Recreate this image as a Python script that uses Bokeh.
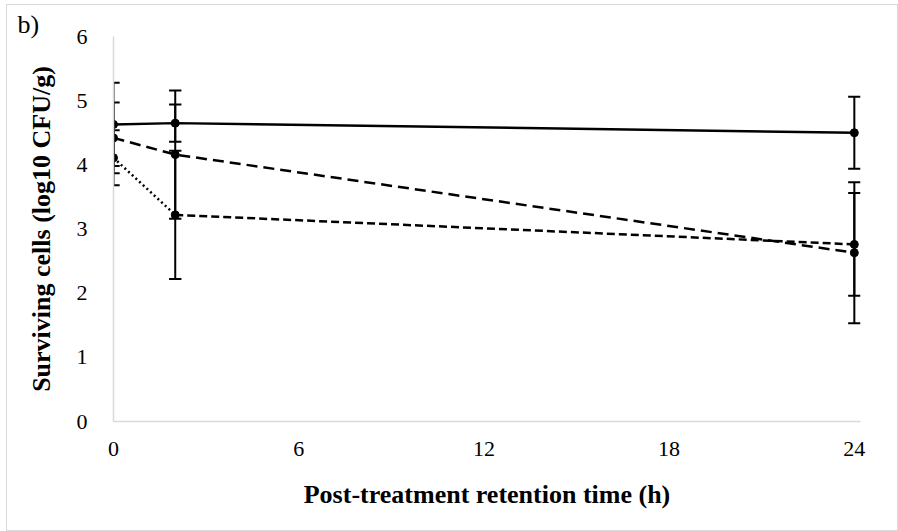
from bokeh.plotting import figure
from bokeh.models import FixedTicker, Range1d
from bokeh.embed import file_html
from bokeh.resources import INLINE

# ---- data ----
time_h = [0, 2, 24]
series1 = [4.63, 4.65, 4.50]
err1 = [0.65, 0.29, 0.56]
series2 = [4.42, 4.16, 2.63]
err2 = [0.55, 1.00, 1.10]
series3 = [4.11, 3.22, 2.76]
err3 = [0.43, 1.00, 0.80]
x_ticks = [0, 6, 12, 18, 24]
y_ticks = [0, 1, 2, 3, 4, 5, 6]

FONT = "Liberation Serif"
CAP = 0.2  # half width of error-bar caps, in hours
X_MIN, X_MAX = 0, 24.2

OFF_X, OFF_Y = 7, 5
W, H = 890, 525
p = figure(width=W, height=H, output_backend="svg", toolbar_location=None,
           x_range=Range1d(X_MIN, X_MAX), y_range=Range1d(0, 6))
p.min_border_left = 113 - OFF_X
p.min_border_right = OFF_X + W - 860
p.min_border_top = 36 - OFF_Y
p.min_border_bottom = OFF_Y + H - 421
p.outline_line_color = None
p.xgrid.grid_line_color = None
p.ygrid.grid_line_color = None
p.background_fill_color = "white"
p.border_fill_color = "white"
p.styles = {"margin-left": f"{OFF_X}px", "margin-top": f"{OFF_Y}px",
            "outline": "1px solid #d9d9d9"}

p.title.text = "b)"
p.title.text_font = FONT
p.title.text_font_style = "normal"
p.title.text_font_size = "26px"
p.title.text_color = "black"
p.title.align = "left"
p.title.offset = -96
p.title.standoff = -4

for ax in (p.xaxis[0], p.yaxis[0]):
    ax.axis_line_color = "#d9d9d9"
    ax.axis_line_width = 1.5
    ax.major_tick_line_color = None
    ax.minor_tick_line_color = None
    ax.major_label_text_font = FONT
    ax.major_label_text_font_size = "22px"
    ax.major_label_text_color = "black"
    ax.axis_label_text_font = FONT
    ax.axis_label_text_font_style = "bold"
    ax.axis_label_text_font_size = "26px"
    ax.axis_label_text_color = "black"

p.xaxis.ticker = FixedTicker(ticks=x_ticks)
p.yaxis.ticker = FixedTicker(ticks=y_ticks)
p.xaxis.axis_label = "Post-treatment retention time (h)"
p.yaxis.axis_label = "Surviving cells (log10 CFU/g)"
p.xaxis.major_label_standoff = 14
p.yaxis.major_label_standoff = 20
p.xaxis.axis_label_standoff = 21
p.yaxis.axis_label_standoff = 18

# error bars (caps cut at the plot edge, like the original)
for vals, errs in ((series1, err1), (series2, err2), (series3, err3)):
    up = [v + e for v, e in zip(vals, errs)]
    lo = [v - e for v, e in zip(vals, errs)]
    left = [max(t - CAP, X_MIN) for t in time_h]
    right = [min(t + CAP, X_MAX) for t in time_h]
    p.segment(x0=time_h, y0=lo, x1=time_h, y1=up, line_color="black", line_width=2)
    p.segment(x0=left, y0=up, x1=right, y1=up, line_color="black", line_width=2)
    p.segment(x0=left, y0=lo, x1=right, y1=lo, line_color="black", line_width=2)

# lines
p.line(time_h, series1, line_color="black", line_width=2.5)
p.line(time_h, series2, line_color="black", line_width=2.5, line_dash="11 6")
p.line(time_h[:2], series3[:2], line_color="black", line_width=2.5, line_dash="2 3")
p.line(time_h[1:], series3[1:], line_color="black", line_width=2.5, line_dash="8 4")

for s in (series1, series2, series3):
    p.scatter(time_h, s, size=8, color="black", marker="circle")

open("out.html", "w").write(file_html(p, INLINE))
